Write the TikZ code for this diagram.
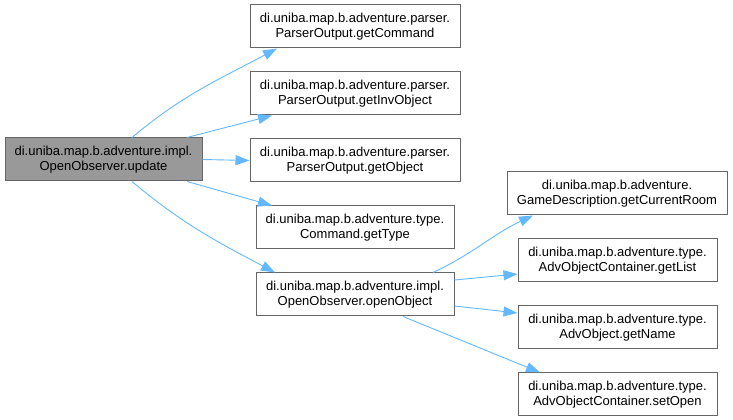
\documentclass[tikz,border=0pt]{standalone}
\usepackage{fontspec}
\setmainfont{Liberation Sans}
\usetikzlibrary{arrows.meta}
\definecolor{edgeblue}{HTML}{63B8FF}
\definecolor{boxgray}{HTML}{666666}
\definecolor{rootfill}{HTML}{999999}
\tikzset{
  fn/.style={draw=boxgray, line width=1pt, fill=white, inner sep=0pt, align=center,
    minimum height=43pt, font=\fontsize{13}{15.5}\selectfont},
  call/.style={draw=edgeblue, line width=0.9pt, -{Triangle[length=14pt,width=10pt,fill=edgeblue]}}
}
\begin{document}
\begin{tikzpicture}[x=1pt, y=1pt]
\useasboundingbox (0,0) rectangle (733,420);
% caller
\node[fn, fill=rootfill, minimum width=197pt] (update) at (103.5,260.5) {di.uniba.map.b.adventure.impl.\\OpenObserver.update};
% first level
\node[fn, minimum width=210pt] (getCommand) at (355,393.5) {di.uniba.map.b.adventure.parser.\\ParserOutput.getCommand};
\node[fn, minimum width=210pt] (getInvObject) at (355,326.5) {di.uniba.map.b.adventure.parser.\\ParserOutput.getInvObject};
\node[fn, minimum width=210pt] (getObject) at (355,259.5) {di.uniba.map.b.adventure.parser.\\ParserOutput.getObject};
\node[fn, minimum width=198pt] (getType) at (355,192.5) {di.uniba.map.b.adventure.type.\\Command.getType};
\node[fn, minimum width=198pt] (openObject) at (355,125.5) {di.uniba.map.b.adventure.impl.\\OpenObserver.openObject};
% second level
\node[fn, minimum width=220pt] (getCurrentRoom) at (617,226.5) {di.uniba.map.b.adventure.\\GameDescription.getCurrentRoom};
\node[fn, minimum width=199pt] (getList) at (617.5,159.5) {di.uniba.map.b.adventure.type.\\AdvObjectContainer.getList};
\node[fn, minimum width=199pt] (getName) at (617.5,92.5) {di.uniba.map.b.adventure.type.\\AdvObject.getName};
\node[fn, minimum width=199pt] (setOpen) at (617.5,25.5) {di.uniba.map.b.adventure.type.\\AdvObjectContainer.setOpen};
% calls
\draw[call] ([xshift=28.5pt]update.north) to[out=40, in=-152] ([xshift=-78pt]getCommand.south);
\draw[call] ([xshift=83.5pt]update.north) -- ([xshift=-83pt]getInvObject.south);
\draw[call] (update.east) -- (getObject.west);
\draw[call] ([xshift=83.5pt]update.south) -- ([xshift=-83pt]getType.north);
\draw[call] ([xshift=28.5pt]update.south) to[out=-40, in=152] ([xshift=-80pt]openObject.north);
\draw[call] ([xshift=78pt]openObject.north) to[out=25, in=-155] ([xshift=-84pt]getCurrentRoom.south);
\draw[call] ([yshift=14.5pt]openObject.east) -- ([yshift=-13.5pt]getList.west);
\draw[call] ([yshift=-11.5pt]openObject.east) -- ([yshift=14.5pt]getName.west);
\draw[call] ([xshift=48pt]openObject.south) -- ([xshift=-77.5pt]setOpen.north);
\end{tikzpicture}
\end{document}
